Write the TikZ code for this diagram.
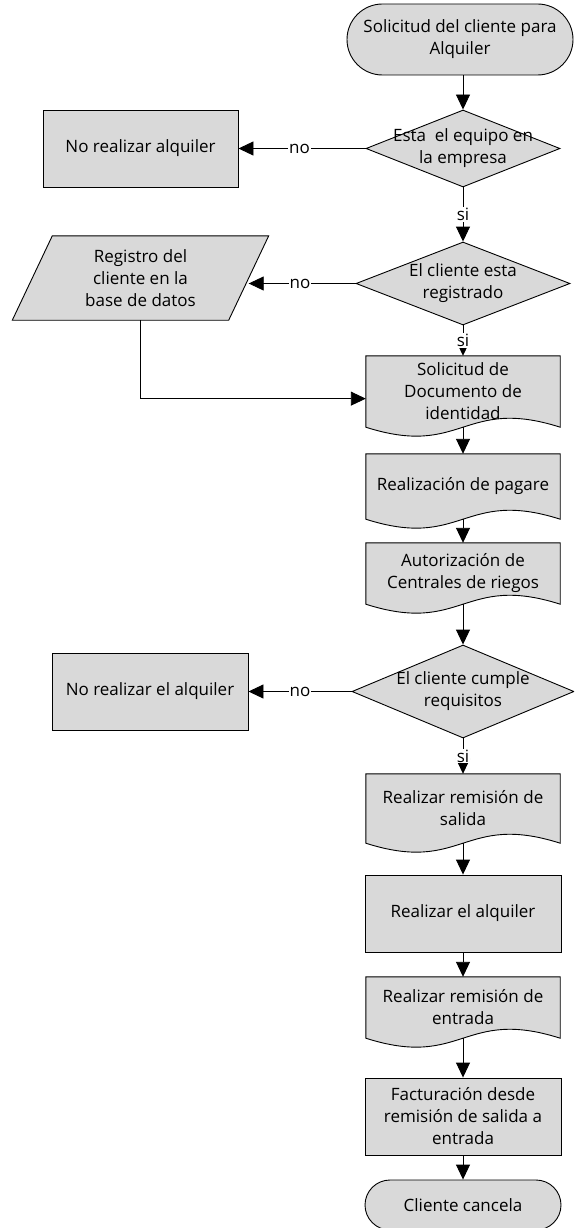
\documentclass[tikz,border=0pt]{standalone}
\usepackage{fontspec}
\setmainfont{Open Sans}
\usetikzlibrary{shapes.geometric,arrows.meta,calc,backgrounds}
\definecolor{boxfill}{HTML}{D9D9D9}
\tikzset{
  base/.style={font=\fontsize{17}{22}\selectfont, align=center, inner sep=0pt},
  proc/.style={base, rectangle, draw=black, fill=boxfill, line width=0.9pt},
  term/.style={base, rectangle, draw=black, fill=boxfill, line width=0.9pt},
  dec/.style={base, diamond, draw=black, fill=boxfill, line width=0.9pt},
  shapeline/.style={draw=black, fill=boxfill, line width=0.9pt},
  conn/.style={line width=0.9pt, -{Triangle[length=15pt,width=14pt]}},
  lbl/.style={font=\fontsize{17}{22}\selectfont, fill=white, inner sep=1pt},
}
\newcommand\docpath[1]{%
  \path[shapeline] (#1.north west) -- (#1.north east) -- (#1.south east)
    .. controls ($(#1.south)+(0,-31)$) and ($(#1.south)+(0,31)$) .. (#1.south west) -- cycle;}
\begin{document}
\begin{tikzpicture}[x=1pt,y=-1pt]
\useasboundingbox (0,0) rectangle (574,1228);
\clip (0,0) rectangle (574,1228);

\node[term, minimum width=226pt, minimum height=71pt, rounded corners=35.5pt] (start) at (460,39.5) {Solicitud del cliente para\\Alquiler};
\node[dec, minimum width=194pt, minimum height=77pt, label={[base]center:Esta\ \ el equipo en\\la empresa}] (d1) at (463,148.5) {};
\node[proc, minimum width=195pt, minimum height=77pt] (no1) at (140.5,148.5) {No realizar alquiler};
\node[dec, minimum width=214pt, minimum height=83pt, label={[base]center:El cliente esta\\registrado}] (d2) at (463,283.5) {};
\node[base, minimum width=216pt, minimum height=84pt] (reg) at (140.5,278) {Registro del\\cliente en la\\base de datos};
\node[base, minimum width=194pt, minimum height=71pt] (doc1) at (463,391.5) {Solicitud de\\Documento de\\identidad};
\node[base, minimum width=194pt, minimum height=65pt] (doc2) at (463,486.5) {Realización de pagare};
\node[base, minimum width=194pt, minimum height=61pt] (doc3) at (463,573.5) {Autorización de\\Centrales de riegos};
\node[dec, minimum width=222pt, minimum height=93pt, label={[base]center:El cliente cumple\\requisitos}] (d3) at (463,691.5) {};
\node[proc, minimum width=196pt, minimum height=77pt] (no2) at (150,691.5) {No realizar el alquiler};
\node[base, minimum width=194pt, minimum height=69pt] (doc4) at (463,808.5) {Realizar remisión de\\salida};
\node[proc, minimum width=196pt, minimum height=77pt] (alq) at (463,913.5) {Realizar el alquiler};
\node[base, minimum width=194pt, minimum height=61pt] (doc5) at (463,1007.5) {Realizar remisión de\\entrada};
\node[proc, minimum width=196pt, minimum height=77pt] (fac) at (463,1116.5) {Facturación desde\\remisión de salida a\\entrada};
\node[term, minimum width=196pt, minimum height=50pt, rounded corners=25pt] (end) at (463,1205) {Cliente cancela};

\begin{pgfonlayer}{background}
  \docpath{doc1}
  \docpath{doc2}
  \docpath{doc3}
  \docpath{doc4}
  \docpath{doc5}
  \path[shapeline] ([xshift=20pt]reg.north west) -- ([xshift=20pt]reg.north east)
     -- ([xshift=-20pt]reg.south east) -- ([xshift=-20pt]reg.south west) -- cycle;
\end{pgfonlayer}

\coordinate (c1) at ($(doc1.north west)!0.6!(doc1.south west)$);
\draw[conn] (start.south -| d1.north) -- (d1.north);
\draw[conn] (d1.west) -- node[lbl, pos=0.52]{no} (no1.east);
\draw[conn] (d1.south) -- node[lbl]{si} (d2.north);
\draw[conn] (d2.west) -- node[lbl, pos=0.52]{no} (d2.west -| reg.east);
\draw[conn] (d2.south) -- node[lbl]{si} (doc1.north);
\draw[conn] (reg.south) |- (c1);
\draw[conn] (doc1.south) -- (doc2.north);
\draw[conn] (doc2.south) -- (doc3.north);
\draw[conn] (doc3.south) -- (d3.north);
\draw[conn] (d3.west) -- node[lbl, pos=0.5]{no} (no2.east);
\draw[conn] (d3.south) -- node[lbl]{si} (doc4.north);
\draw[conn] (doc4.south) -- (alq.north);
\draw[conn] (alq.south) -- (doc5.north);
\draw[conn] (doc5.south) -- (fac.north);
\draw[conn] (fac.south) -- (end.north);
\end{tikzpicture}
\end{document}
